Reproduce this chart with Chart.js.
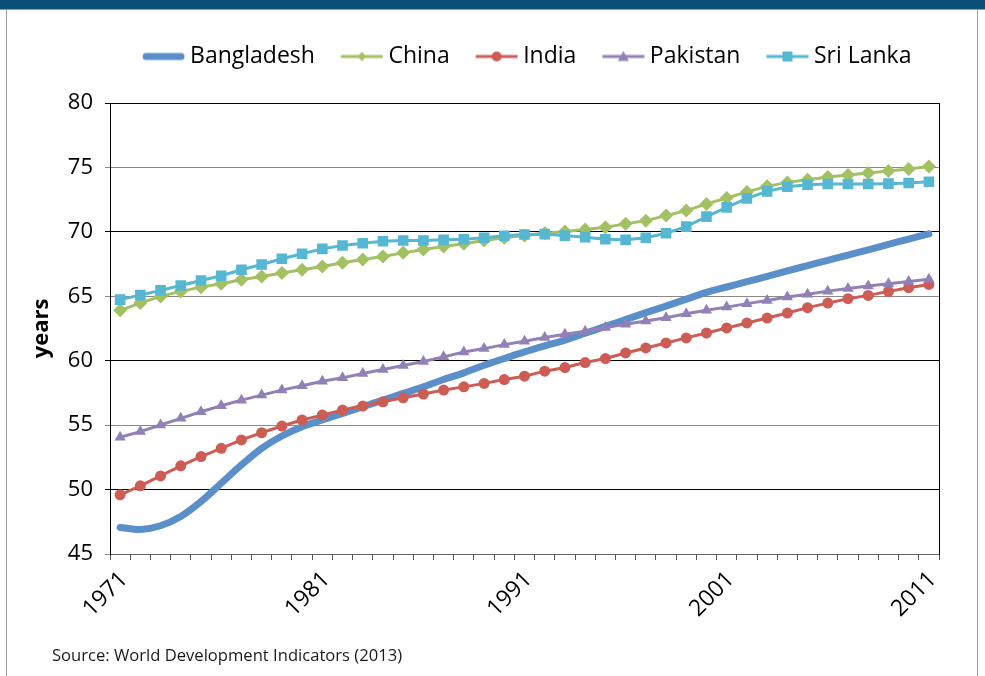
<!DOCTYPE html>
<html>
<head>
<meta charset="utf-8">
<script src="https://cdn.jsdelivr.net/npm/chart.js@4.4.1/dist/chart.umd.min.js"></script>
<style>
  html, body { margin: 0; padding: 0; background: #fff; overflow: hidden; }
  #topbar { position: absolute; left: 0; top: 0; width: 985px; height: 9px; background: #0c5078; border-bottom: 1px solid #9a9a9a; }
  #frame { position: absolute; left: 6px; top: 10px; width: 970px; height: 700px; border-left: 1px solid #a0a0a0; border-right: 1px solid #a0a0a0; }
  #wrap { position: absolute; left: 0; top: 0; width: 985px; height: 676px; }
  #source { position: absolute; left: 52px; top: 643px; font: 16.6px 'Open Sans', sans-serif; color: #1a1a1a; }
</style>
</head>
<body>
<div id="topbar"></div>
<div id="frame"></div>
<div id="wrap"><canvas id="myChart"></canvas></div>
<div id="source">Source: World Development Indicators (2013)</div>
<script>
const years = ['1971','1972','1973','1974','1975','1976','1977','1978','1979','1980',
  '1981','1982','1983','1984','1985','1986','1987','1988','1989','1990',
  '1991','1992','1993','1994','1995','1996','1997','1998','1999','2000',
  '2001','2002','2003','2004','2005','2006','2007','2008','2009','2010','2011'];

const bangladesh = [47.06, 46.9, 47.19, 47.91, 49.07, 50.49, 51.91, 53.2, 54.16, 54.88,
  55.4, 55.91, 56.43, 56.94, 57.46, 57.97, 58.54, 59.06, 59.65, 60.17,
  60.68, 61.15, 61.6, 62.13, 62.66, 63.19, 63.73, 64.24, 64.78, 65.3,
  65.72, 66.13, 66.55, 66.97, 67.38, 67.79, 68.2, 68.61, 69.03, 69.44, 69.85];
const china = [63.91, 64.47, 64.99, 65.38, 65.71, 65.97, 66.28, 66.54, 66.8, 67.06,
  67.31, 67.6, 67.86, 68.09, 68.37, 68.63, 68.86, 69.07, 69.33, 69.54,
  69.71, 69.89, 70.02, 70.18, 70.36, 70.62, 70.87, 71.26, 71.65, 72.17,
  72.63, 73.1, 73.53, 73.84, 74.05, 74.26, 74.41, 74.57, 74.72, 74.88, 75.08];
const india = [49.59, 50.29, 51.06, 51.84, 52.56, 53.2, 53.85, 54.41, 54.93, 55.4,
  55.78, 56.17, 56.48, 56.81, 57.12, 57.41, 57.72, 57.97, 58.24, 58.54,
  58.8, 59.19, 59.47, 59.86, 60.17, 60.6, 60.99, 61.38, 61.77, 62.15,
  62.54, 62.93, 63.31, 63.7, 64.12, 64.47, 64.81, 65.07, 65.38, 65.67, 65.92];
const pakistan = [54.06, 54.5, 55.01, 55.53, 56.04, 56.5, 56.94, 57.33, 57.72, 58.05,
  58.41, 58.67, 59.01, 59.32, 59.63, 59.94, 60.3, 60.68, 60.94, 61.25,
  61.51, 61.8, 62.05, 62.28, 62.57, 62.83, 63.08, 63.34, 63.65, 63.91,
  64.16, 64.43, 64.68, 64.94, 65.15, 65.4, 65.61, 65.79, 65.97, 66.15, 66.33];
const sriLanka = [64.74, 65.09, 65.46, 65.84, 66.23, 66.59, 67.06, 67.47, 67.91, 68.3,
  68.68, 68.94, 69.12, 69.27, 69.33, 69.33, 69.38, 69.43, 69.54, 69.69,
  69.79, 69.82, 69.71, 69.58, 69.43, 69.38, 69.54, 69.89, 70.41, 71.18,
  71.9, 72.6, 73.14, 73.5, 73.66, 73.71, 73.71, 73.71, 73.74, 73.79, 73.89];

const yTicks = [45, 50, 55, 60, 65, 70, 75, 80];

const colors = {
  bangladesh: '#5b8fc9',
  china: '#a3c163',
  india: '#cd5c55',
  pakistan: '#9280b7',
  sriLanka: '#56b7d2'
};

Chart.defaults.font.family = "'Open Sans', sans-serif";
Chart.defaults.color = '#000';

// little line+marker pictures for the legend
function legendSample(color, marker, lw) {
  const c = document.createElement('canvas');
  c.width = 54; c.height = 16;
  const g = c.getContext('2d');
  g.strokeStyle = color;
  g.fillStyle = color;
  g.lineWidth = lw;
  g.lineCap = marker ? 'butt' : 'round';
  g.beginPath();
  g.moveTo(marker ? 11.5 : 15, 8);
  g.lineTo(marker ? 53.5 : 50, 8);
  g.stroke();
  const cx = 32.5, cy = 8;
  g.beginPath();
  if (marker === 'diamond') {
    g.moveTo(cx, cy - 5); g.lineTo(cx + 4, cy); g.lineTo(cx, cy + 5); g.lineTo(cx - 4, cy);
  } else if (marker === 'circle') {
    g.arc(cx, cy, 5, 0, Math.PI * 2);
  } else if (marker === 'triangle') {
    g.moveTo(cx, cy - 5.5); g.lineTo(cx + 5.5, cy + 4.5); g.lineTo(cx - 5.5, cy + 4.5);
  } else if (marker === 'square') {
    g.rect(cx - 5, cy - 5, 10, 10);
  }
  g.closePath();
  if (marker) g.fill();
  return c;
}

const legendImgs = [
  legendSample(colors.bangladesh, null, 7),
  legendSample(colors.china, 'diamond', 3),
  legendSample(colors.india, 'circle', 3),
  legendSample(colors.pakistan, 'triangle', 3),
  legendSample(colors.sriLanka, 'square', 3)
];

const canvas = document.getElementById('myChart');
const ctx = canvas.getContext('2d');

const data = {
  labels: years,
  datasets: [
    { label: 'Bangladesh', data: bangladesh, borderColor: colors.bangladesh, backgroundColor: colors.bangladesh,
      borderWidth: 7, pointRadius: 0, tension: 0.3, borderCapStyle: 'round', order: 5 },
    { label: 'China', data: china, borderColor: colors.china, backgroundColor: colors.china,
      borderWidth: 3, pointStyle: 'rectRot', pointRadius: 7, pointBorderWidth: 0, order: 4 },
    { label: 'India', data: india, borderColor: colors.india, backgroundColor: colors.india,
      borderWidth: 3, pointStyle: 'circle', pointRadius: 5.5, pointBorderWidth: 0, order: 3 },
    { label: 'Pakistan', data: pakistan, borderColor: colors.pakistan, backgroundColor: colors.pakistan,
      borderWidth: 3, pointStyle: 'triangle', pointRadius: 6.5, pointBorderWidth: 0, order: 2 },
    { label: 'Sri Lanka', data: sriLanka, borderColor: colors.sriLanka, backgroundColor: colors.sriLanka,
      borderWidth: 3, pointStyle: 'rect', pointRadius: 7.5, pointBorderWidth: 0, order: 1 }
  ]
};

const config = {
  type: 'line',
  data: data,
  options: {
    responsive: true,
    maintainAspectRatio: false,
    animation: false,
    layout: { padding: { top: 24, left: 0, right: 46, bottom: 0 } },
    plugins: {
      tooltip: { enabled: false },
      legend: {
        position: 'top',
        fullSize: false,
        labels: {
          usePointStyle: true,
          pointStyleWidth: 41,
          padding: 21,
          color: '#000',
          font: { size: 23 },
          generateLabels(chart) {
            const items = Chart.defaults.plugins.legend.labels.generateLabels(chart);
            items.sort((a, b) => a.datasetIndex - b.datasetIndex);
            items.forEach(it => { it.pointStyle = legendImgs[it.datasetIndex]; });
            return items;
          }
        }
      },
      // empty spacer between legend and plot
      subtitle: { display: true, text: '', weight: 500, padding: 0, font: { size: 25, lineHeight: 1 } }
    },
    scales: {
      x: {
        offset: true,
        afterFit(s) { s.height = 122; },
        grid: { offset: true, drawOnChartArea: false, tickLength: 6, color: '#555' },
        border: { color: '#666', width: 1 },
        ticks: {
          autoSkip: false,
          maxRotation: 45,
          minRotation: 45,
          padding: 6,
          labelOffset: 4,
          font: { size: 23 },
          color: '#000',
          callback: (v, i) => (i % 10 === 0 ? years[i] : '')
        }
      },
      y: {
        min: 45,
        max: 80,
        afterFit(s) { s.width = 110; },
        afterBuildTicks(s) { s.ticks = yTicks.map(v => ({ value: v })); },
        grid: {
          tickLength: 5,
          color: c => (c.tick && c.tick.value % 10 === 0 ? '#000' : '#8a8a8a')
        },
        border: { color: '#000', width: 1 },
        ticks: { padding: 12, font: { size: 22 }, color: '#000' },
        title: { display: true, text: 'years', font: { size: 22, weight: 'bold' }, padding: { top: 29, bottom: 0 }, color: '#000' }
      },
      y2: {
        position: 'right',
        min: 45,
        max: 80,
        afterFit(s) { s.width = 0; },
        grid: { drawOnChartArea: false, drawTicks: false },
        border: { color: '#000', width: 1 },
        ticks: { display: false }
      }
    }
  }
};

const myChart = new Chart(ctx, config);
</script>
</body>
</html>
